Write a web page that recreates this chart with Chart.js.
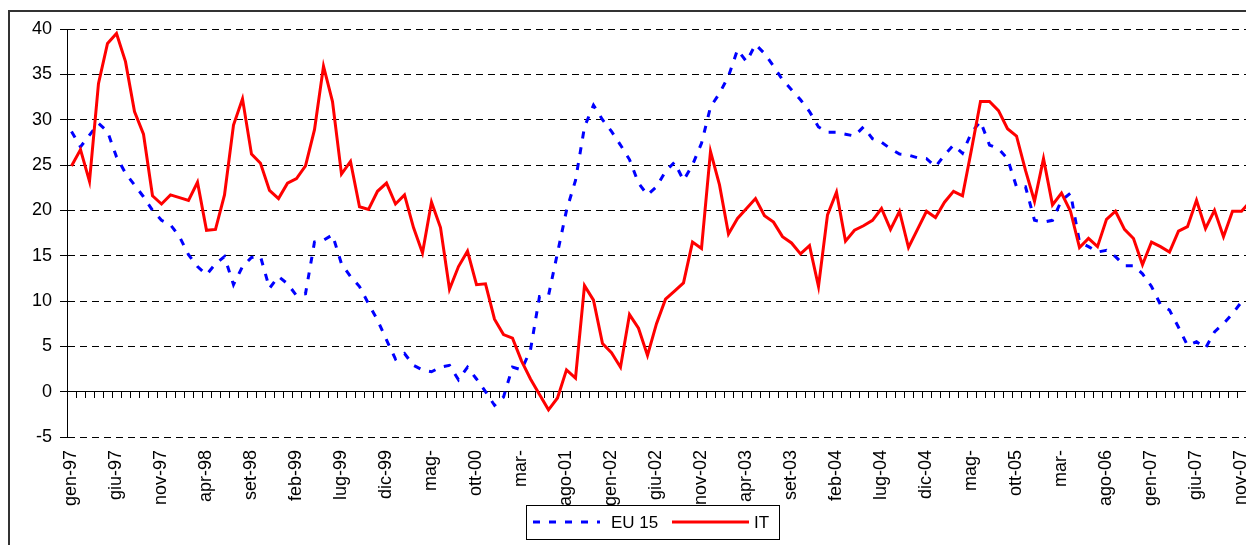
<!DOCTYPE html>
<html>
<head>
<meta charset="utf-8">
<script src="https://cdn.jsdelivr.net/npm/chart.js@4.4.0/dist/chart.umd.min.js"></script>
<style>
  html, body { margin: 0; padding: 0; background: #fff; overflow: hidden; }
  #frame { position: absolute; left: 8px; top: 10px; width: 1320px; height: 600px;
           border: 2px solid #333; box-sizing: border-box; }
  #chart { position: absolute; left: 0; top: 0; }
</style>
</head>
<body>
<div id="frame"></div>
<canvas id="chart" width="1300" height="545"></canvas>
<script>
'use strict';

// Monthly categories gen-97 .. dic-07
const monthNames = ['gen', 'feb', 'mar', 'apr', 'mag', 'giu', 'lug', 'ago', 'set', 'ott', 'nov', 'dic'];
const years = ['97', '98', '99', '00', '01', '02', '03', '04', '05', '06', '07'];
const categories = years.flatMap(y => monthNames.map(m => m + '-' + y));

// Labels as printed under the axis (one every 5 months, some cut short)
const shownTicks = [
  'gen-97', 'giu-97', 'nov-97', 'apr-98', 'set-98', 'feb-99', 'lug-99', 'dic-99', 'mag-',
  'ott-00', 'mar-', 'ago-01', 'gen-02', 'giu-02', 'nov-02', 'apr-03', 'set-03', 'feb-04',
  'lug-04', 'dic-04', 'mag-', 'ott-05', 'mar-', 'ago-06', 'gen-07', 'giu-07', 'nov-07',
];

const eu15 = [
  28.7, 27.0, 28.3, 29.6, 28.7, 25.9, 24.1, 22.8, 21.5, 20.0, 18.9, 18.4,
  17.1, 15.1, 13.8, 12.9, 14.1, 14.9, 11.8, 13.8, 14.8, 14.9, 11.4, 12.7,
  11.9, 10.6, 10.8, 16.5, 16.7, 17.3, 14.1, 12.7, 11.6, 9.7, 7.9, 5.7,
  3.6, 4.2, 2.9, 2.4, 2.2, 2.7, 2.9, 1.3, 2.7, 1.4, 0.0, -1.5,
  -0.6, 2.7, 2.4, 4.6, 10.5, 10.6, 15.3, 20.0, 23.3, 29.2, 31.6, 30.0,
  28.7, 27.2, 25.6, 23.0, 21.7, 22.6, 24.3, 25.3, 23.3, 25.0, 27.4, 31.4,
  32.9, 34.8, 37.7, 36.4, 38.3, 37.3, 35.9, 34.4, 33.3, 32.2, 30.9, 29.2,
  28.6, 28.6, 28.4, 28.2, 29.2, 27.9, 27.5, 26.8, 26.2, 26.1, 25.8, 25.7,
  24.8, 26.1, 27.2, 26.3, 28.6, 29.8, 27.2, 26.8, 25.7, 22.6, 22.6, 18.9,
  18.7, 18.9, 21.1, 21.9, 16.5, 16.0, 15.4, 15.6, 14.9, 13.9, 13.9, 13.0,
  11.6, 9.6, 9.0, 7.1, 5.1, 5.5, 4.8, 6.6, 7.5, 8.6, 9.9, 9.9,
];

const italy = [
  24.9, 26.7, 23.2, 34.0, 38.4, 39.5, 36.4, 30.9, 28.4, 21.6, 20.7, 21.7,
  21.4, 21.1, 23.1, 17.8, 17.9, 21.7, 29.4, 32.3, 26.2, 25.2, 22.2, 21.3,
  23.0, 23.5, 24.9, 28.9, 35.9, 32.0, 24.0, 25.4, 20.4, 20.1, 22.1, 23.0,
  20.7, 21.7, 18.1, 15.3, 20.9, 18.1, 11.3, 13.8, 15.5, 11.8, 11.9, 8.0,
  6.3, 5.9, 3.4, 1.4, -0.3, -2.0, -0.7, 2.4, 1.5, 11.7, 10.1, 5.3,
  4.3, 2.7, 8.5, 7.0, 4.0, 7.5, 10.2, 11.1, 12.0, 16.5, 15.8, 26.5,
  22.8, 17.4, 19.1, 20.2, 21.3, 19.4, 18.7, 17.1, 16.4, 15.2, 16.1, 11.6,
  19.5, 22.0, 16.6, 17.8, 18.3, 18.9, 20.2, 17.9, 19.9, 15.9, 17.9, 19.9,
  19.2, 20.9, 22.1, 21.6, 26.7, 32.0, 32.0, 31.0, 29.0, 28.2, 24.4, 21.0,
  25.7, 20.6, 21.9, 19.9, 15.9, 16.9, 16.0, 19.0, 19.9, 17.9, 16.9, 14.0,
  16.5, 16.0, 15.4, 17.7, 18.2, 21.1, 18.0, 20.0, 17.1, 19.9, 19.9, 21.0,
];

const FONT = '"Liberation Sans", Arial, sans-serif';
Chart.defaults.font.family = FONT;
Chart.defaults.font.size = 18;
Chart.defaults.color = '#000';

// Boxed legend sitting below the axis labels, drawn last so it covers them
const boxedLegend = {
  id: 'boxedLegend',
  afterDraw(chart) {
    const ctx = chart.ctx;
    const sets = chart.data.datasets;
    ctx.save();
    ctx.fillStyle = '#fff';
    ctx.fillRect(526, 505, 253, 34);
    ctx.strokeStyle = '#000';
    ctx.lineWidth = 1;
    ctx.strokeRect(526.5, 505.5, 253, 34);
    ctx.font = '17px ' + FONT;
    ctx.textBaseline = 'middle';
    ctx.fillStyle = '#000';
    const rows = [
      { ds: sets[0], x0: 533, x1: 600, tx: 611 },
      { ds: sets[1], x0: 672, x1: 749, tx: 754 },
    ];
    rows.forEach(r => {
      ctx.strokeStyle = r.ds.borderColor;
      ctx.lineWidth = r.ds.borderWidth;
      ctx.setLineDash(r.ds.borderDash || []);
      ctx.beginPath();
      ctx.moveTo(r.x0, 522);
      ctx.lineTo(r.x1, 522);
      ctx.stroke();
      ctx.setLineDash([]);
      ctx.fillText(r.ds.label, r.tx, 523);
    });
    ctx.restore();
  },
};

new Chart(document.getElementById('chart'), {
  type: 'line',
  data: {
    labels: categories,
    datasets: [
      {
        label: 'EU 15',
        data: eu15,
        borderColor: '#0000ff',
        borderWidth: 3,
        borderDash: [7, 9],
        pointRadius: 0,
        tension: 0,
        order: 1,
      },
      {
        label: 'IT',
        data: italy,
        borderColor: '#ff0000',
        borderWidth: 3,
        pointRadius: 0,
        tension: 0,
        order: 0,
      },
    ],
  },
  options: {
    responsive: false,
    animation: false,
    events: [],
    layout: { padding: { left: 0, top: 29, right: 45, bottom: 0 } },
    plugins: { legend: { display: false }, tooltip: { enabled: false } },
    scales: {
      x: {
        type: 'category',
        offset: true,
        border: { display: false },
        grid: { display: false, drawTicks: false },
        ticks: {
          autoSkip: false,
          maxRotation: 90,
          minRotation: 90,
          padding: 13,
          callback: (val, idx) => (idx % 5 === 0 ? shownTicks[idx / 5] : ''),
        },
        afterFit(scale) { scale.height = 108; },
      },
      // zero line with monthly tick marks
      x0: {
        type: 'category',
        axis: 'x',
        position: { y: 0 },
        offset: true,
        border: { display: true, color: '#000', width: 1 },
        grid: { offset: true, drawOnChartArea: false, tickLength: 6, tickColor: '#000' },
        ticks: { display: false, autoSkip: false },
      },
      y: {
        min: -5,
        max: 40,
        border: { display: true, color: '#000', width: 1, dash: [7, 5] },
        grid: { color: '#000', lineWidth: 1, tickLength: 7, tickColor: '#000' },
        ticks: { stepSize: 5, padding: 8 },
        afterFit(scale) { scale.width = 67; },
      },
    },
  },
  plugins: [boxedLegend],
});
</script>
</body>
</html>
